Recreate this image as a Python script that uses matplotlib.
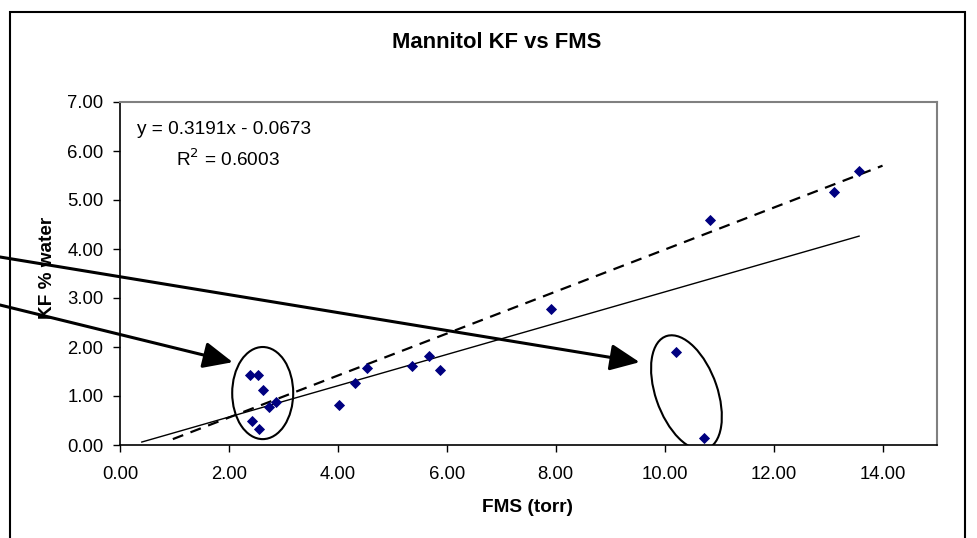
## libraries
import numpy as np
import matplotlib
matplotlib.use("Agg")
import matplotlib.pyplot as plt
from matplotlib.patches import Ellipse, Rectangle

plt.rcParams['font.family'] = ['Liberation Sans', 'DejaVu Sans']

## data
fms = [2.39, 2.53, 2.63, 2.74, 2.86, 2.42, 2.55,
       4.02, 4.31, 4.53, 5.36, 5.67, 5.87, 7.91,
       10.20, 10.73, 10.84, 13.10, 13.57]
kf = [1.42, 1.42, 1.12, 0.78, 0.87, 0.49, 0.33,
      0.82, 1.27, 1.57, 1.61, 1.82, 1.53, 2.78,
      1.90, 0.15, 4.60, 5.17, 5.60]

# linear trendline shown in the chart label
slope = 0.3191
intercept = -0.0673
r2 = 0.6003
trend_x = [0.40, 13.57]

# second (dashed) line, end points
dash_x = [0.97, 14.00]
dash_y = [0.12, 5.70]

W, H = 978, 538
fig = plt.figure(figsize=(W / 100, H / 100), dpi=100)
ax = fig.add_axes([120 / W, 1 - 445 / H, (937 - 120) / W, (445 - 102) / H])

# outer chart border
fig.patches.append(Rectangle((10 / W, -0.05), (965 - 10) / W, 1.05 - 12 / H,
                             transform=fig.transFigure, fill=False,
                             edgecolor='black', linewidth=1.5))

ax.plot(fms, kf, linestyle='none', marker='D', markersize=5.2,
        markeredgewidth=0.6, color='#000080', zorder=4)

tx = np.array(trend_x)
ax.plot(tx, slope * tx + intercept, color='black', linewidth=1.0, zorder=3)
ax.plot(dash_x, dash_y, color='black', linewidth=1.6,
        dashes=(5, 3.5), zorder=3)

# circled groups
ax.add_patch(Ellipse((2.62, 1.06), 1.12, 1.88, fill=False,
                     edgecolor='black', linewidth=1.5, zorder=5))
ax.add_patch(Ellipse((10.40, 1.07), 1.14, 2.42, angle=17, fill=False,
                     edgecolor='black', linewidth=1.5, zorder=5))

# arrows coming in from the left edge
arrow = dict(arrowstyle='-|>,head_length=1.0,head_width=0.45',
             color='black', linewidth=2.2, mutation_scale=18,
             shrinkA=0, shrinkB=0)
ax.annotate('', xy=(9.54, 1.69), xytext=(0, H - 257),
            textcoords='figure pixels', arrowprops=arrow,
            annotation_clip=False, zorder=6)
ax.annotate('', xy=(2.07, 1.69), xytext=(0, H - 305),
            textcoords='figure pixels', arrowprops=arrow,
            annotation_clip=False, zorder=6)

ax.set_xlim(0, 15)
ax.set_ylim(0, 7)
ax.set_xticks(np.arange(0, 15, 2))
ax.set_yticks(np.arange(0, 8, 1))
ax.xaxis.set_major_formatter(matplotlib.ticker.FormatStrFormatter('%.2f'))
ax.yaxis.set_major_formatter(matplotlib.ticker.FormatStrFormatter('%.2f'))
ax.tick_params(direction='out', length=5, width=1, labelsize=13.3,
               colors='black', pad=7)
ax.tick_params(axis='x', pad=10)
for s in ['top', 'right']:
    ax.spines[s].set_color('#808080')
    ax.spines[s].set_linewidth(1.5)
for s in ['left', 'bottom']:
    ax.spines[s].set_color('black')
    ax.spines[s].set_linewidth(1.2)

ax.text(137 / W, 1 - 130 / H, 'y = %.4fx - %.4f' % (slope, -intercept),
        transform=fig.transFigure, fontsize=13.7, va='center', ha='left')
ax.text(176 / W, 1 - 159 / H, 'R$^2$ = %.4f' % r2,
        transform=fig.transFigure, fontsize=13.7, va='center', ha='left')

fig.text(497 / W, 1 - 42 / H, 'Mannitol KF vs FMS', fontsize=15.8,
         fontweight='bold', ha='center', va='center')
fig.text(528 / W, 1 - 507 / H, 'FMS (torr)', fontsize=13.7,
         fontweight='bold', ha='center', va='center')
fig.text(48 / W, 1 - 268 / H, 'KF % water', fontsize=13.7,
         fontweight='bold', ha='center', va='center', rotation=90)

plt.savefig('out.png', dpi=100)
plt.close()
